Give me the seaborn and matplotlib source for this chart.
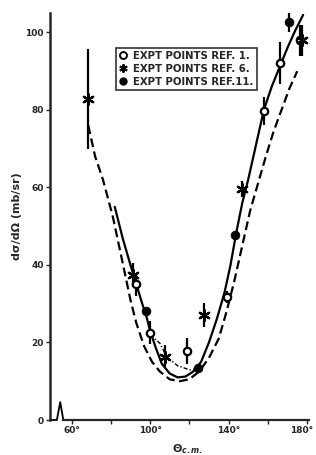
import numpy as np
import pandas as pd
import matplotlib
matplotlib.use('Agg')
import matplotlib.pyplot as plt
import matplotlib.transforms as mtransforms
import seaborn as sns
from matplotlib.lines import Line2D

# Puntos experimentales (theta c.m. en grados, dsigma/dOmega en mb/sr, error)
ref1_theta = [93, 100, 119, 139, 158, 166, 176.5]
ref1_val = [35, 22.5, 17.8, 31.8, 79.7, 92, 98]
ref1_err = [3, 3, 3.3, 1.5, 3.7, 5.4, 4]

ref6_theta = [68.4, 91.5, 107.6, 127.5, 146.7, 177.5]
ref6_val = [82.8, 37.4, 16.3, 27.1, 59.6, 98]
ref6_err = [13, 3, 3, 3, 2, 4]

ref11_theta = [97.8, 124.6, 143.3, 171]
ref11_val = [28.2, 13.3, 47.7, 102.8]
ref11_err = [0, 0, 0, 2.6]

# Curvas teoricas
solida_theta = [82, 86, 90, 93, 96, 98, 100, 103, 106, 110, 114, 118, 122, 126, 130,
                134, 138, 141, 144, 147, 150, 154, 158, 162, 166, 170, 174, 178]
solida_val = [55, 47, 40, 35, 30, 27, 23, 18.5, 14.5, 12, 11, 11.2, 12.5, 15, 20,
              26, 33, 40, 48.5, 56, 62, 71, 80, 86, 91, 96, 100.5, 104.5]

trazos_theta = [68.5, 72, 76, 81, 85, 90, 93, 97, 101, 105, 110, 115, 120, 125, 130,
                135, 139, 143, 147, 151, 155, 159, 163, 167, 171, 175]
trazos_val = [76, 68, 62, 52.5, 43, 31, 25, 19, 15, 12.5, 10.5, 10, 10.5, 12.5, 16,
              21, 28, 36, 45, 54, 61, 68, 74.5, 80, 85.5, 90]

puntos_theta = [100, 105, 108.5, 114, 120.4, 124.6]
puntos_val = [22, 19.8, 16.3, 14, 12.9, 13.3]

x_ticks = [60, 100, 140, 180]
x_labels = ['60°', '100°', '140°', '180°']
y_ticks = [0, 20, 40, 60, 80, 100]

sns.set_style('ticks')
plt.rcParams['font.family'] = ['DejaVu Sans']
plt.rcParams['font.weight'] = 'bold'

fig = plt.figure(figsize=(3.16, 4.55), dpi=100)
ax = fig.add_axes([50 / 316, 35 / 455, 259 / 316, 407 / 455])

sns.lineplot(x=solida_theta, y=solida_val, ax=ax, color='black', lw=1.6, sort=False)
sns.lineplot(x=trazos_theta, y=trazos_val, ax=ax, color='black', lw=1.6,
             linestyle=(0, (4, 2)), sort=False)
sns.lineplot(x=puntos_theta, y=puntos_val, ax=ax, color='black', lw=1.0,
             linestyle=(0, (3, 1.5, 1, 1.5)), sort=False)

# Barras de error
for th, v, e in [(ref1_theta, ref1_val, ref1_err), (ref6_theta, ref6_val, ref6_err),
                 (ref11_theta, ref11_val, ref11_err)]:
    ax.errorbar(th, v, yerr=e, fmt='none', ecolor='black', elinewidth=1.6, capsize=0)

sns.scatterplot(x=ref1_theta, y=ref1_val, ax=ax, marker='o', s=28, facecolor='white',
                edgecolor='black', linewidth=1.6, zorder=5)
sns.scatterplot(x=ref6_theta, y=ref6_val, ax=ax, marker=(6, 2, 0), s=60,
                color='black', linewidth=1.6, zorder=5)
sns.scatterplot(x=ref11_theta, y=ref11_val, ax=ax, marker='o', s=40, color='black',
                edgecolor='black', zorder=5)

ax.set_xlim(49, 181)
ax.set_ylim(0, 105)
ax.set_xticks(x_ticks)
ax.set_xticklabels(x_labels)
ax.set_xticks([80, 120, 160], minor=True)
ax.set_yticks(y_ticks)
ax.tick_params(axis='both', labelsize=6.5, width=1, length=3, pad=1.5, direction='out')
ax.tick_params(axis='x', which='minor', length=3, width=1)
for lab in ax.get_xticklabels() + ax.get_yticklabels():
    lab.set_fontweight('bold')
# la etiqueta de 180 queda pegada al borde: se corre un poco a la izquierda
ultima = ax.get_xticklabels()[-1]
ultima.set_transform(ultima.get_transform() +
                     mtransforms.ScaledTranslation(-4 / 72, 0, fig.dpi_scale_trans))

sns.despine(ax=ax)
ax.spines['left'].set_linewidth(1.8)
ax.spines['bottom'].set_linewidth(1.6)
ax.spines['bottom'].set_bounds(55.8, 181)

# Corte del eje x
ax.plot([49, 52.5, 54.2, 55.8], [0, 0, 4.6, 0], color='black', lw=1.3, clip_on=False)

ax.set_ylabel('dσ/dΩ (mb/sr)', fontsize=8, fontweight='bold', labelpad=2)
ax.set_xlabel('$\\Theta_{c.m.}$', fontsize=8, fontweight='bold', labelpad=4)
ax.xaxis.set_label_coords(0.53, -0.055)

handles = [
    Line2D([], [], marker='o', markersize=5, markerfacecolor='white',
           markeredgecolor='black', markeredgewidth=1.4, linestyle='none'),
    Line2D([], [], marker=(6, 2, 0), markersize=6, color='black',
           markeredgewidth=1.4, linestyle='none'),
    Line2D([], [], marker='o', markersize=5, color='black', linestyle='none'),
]
labels = ['EXPT POINTS REF. 1.', 'EXPT POINTS REF. 6.', 'EXPT POINTS REF.11.']
leg = ax.legend(handles, labels, loc='upper left', bbox_to_anchor=(0.255, 0.915),
                frameon=True, fancybox=False, fontsize=7.3, handlelength=0.8,
                handletextpad=0.6, borderpad=0.3, labelspacing=0.3, borderaxespad=0)
leg.get_frame().set_edgecolor('black')
leg.get_frame().set_linewidth(1.2)
for t in leg.get_texts():
    t.set_fontweight('bold')

fig.savefig('out.png', dpi=100)
